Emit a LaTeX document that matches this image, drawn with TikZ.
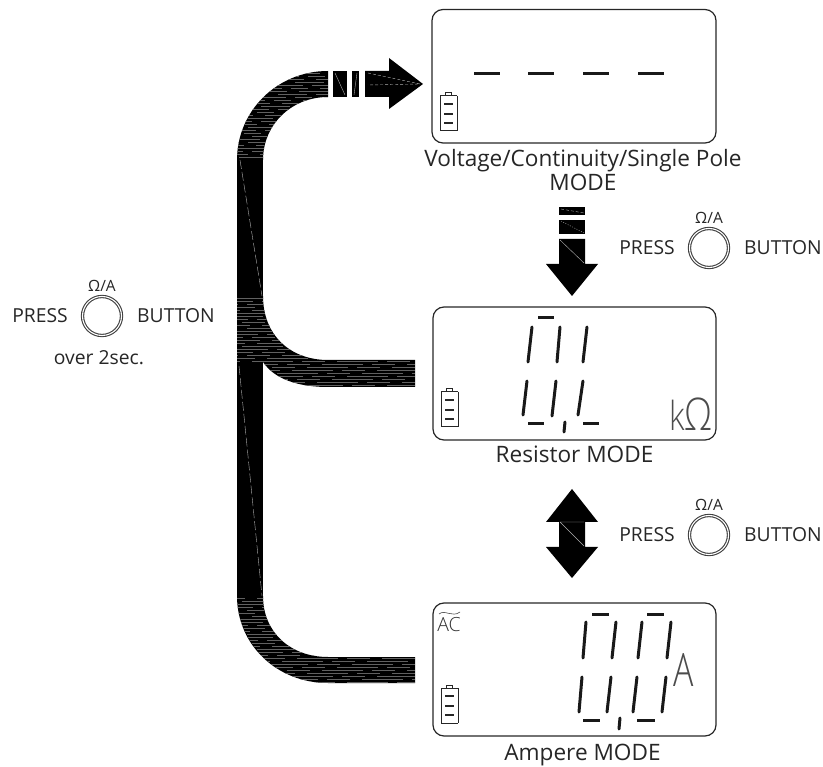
\documentclass[tikz,border=0pt]{standalone}
\usepackage{fontspec}
\setmainfont{Open Sans}
\newfontfamily\thinfont{Open Sans Light}
\tikzset{
  lbl/.style={inner sep=0pt,text=black!85,font=\fontsize{19.3}{22}\selectfont},
  captext/.style={inner sep=0pt,text=black!85,font=\fontsize{22.6}{25}\selectfont},
  small/.style={inner sep=0pt,text=black!85,font=\fontsize{15.5}{17}\selectfont},
  lcd/.style={draw=black!85,line width=1.2pt,rounded corners=11pt},
  seg/.style={line width=3pt,draw=black!90,line cap=round},
  dashseg/.style={line width=3pt,draw=black!90},
  band/.style={fill=black,draw=none},
  solid/.style={fill=black,draw=none},
  crack/.style={draw=white!70!black,line width=.4pt},
  stripe/.style={draw=black!62,line width=.6pt},
  ring/.style={circle,draw=black!75,line width=1.1pt,double=white,double distance=1.1pt,minimum size=39pt,inner sep=0pt},
  thinlbl/.style={inner sep=0pt,text=black!70,font=\thinfont\fontsize{40}{44}\selectfont,xscale=.8,transform shape},
  batt/.pic={
    \draw[black!85,line width=1pt] (0,0)--(0,35) (17,0)--(17,35) (0,0)--(17,0) (0,35)--(17,35);
    \draw[black!85,line width=1pt] (5.5,0)--(5.5,-3)--(11.5,-3)--(11.5,0);
    \draw[black!85,line width=1.2pt] (4,8)--(13,8) (4,18)--(13,18) (4,27)--(13,27);
  }
}
\newcommand{\pressbtn}[3]{%
  \node[ring] (#3c) at (#1,#2) {};
  \node[small,anchor=base] (#3o) at (#1,#2-24) {Ω/A};
  \node[lbl,anchor=east] (#3p) at (#1-34,#2) {PRESS};
  \node[lbl,anchor=west] (#3b) at (#1+35,#2) {BUTTON};
}
\begin{document}
\begin{tikzpicture}[x=1pt,y=-1pt]
\useasboundingbox (0,0) rectangle (823,767);
% thick band
\path[band] (237,160) .. controls (237,111) and (277,71) .. (328,71) -- (328,97) .. controls (291,97) and (263,125) .. (263,160) -- cycle;
\path[band] (237,155) rectangle (263,300);
\path[band] (237,296) -- (263,296) .. controls (263,335) and (290,360) .. (328,360) -- (415,360) -- (415,387) -- (328,387) .. controls (300,387) and (275,380) .. (263,362) -- (237,362) -- cycle;
\path[band] (237,355) rectangle (263,600);
\path[band] (237,596) -- (263,596) .. controls (263,632) and (290,657) .. (328,657) -- (415,657) -- (415,683) -- (328,683) .. controls (277,683) and (237,645) .. (237,596) -- cycle;
% stripes
\begin{scope}
\clip (237,160) .. controls (237,111) and (277,71) .. (328,71) -- (328,97) .. controls (291,97) and (263,125) .. (263,160) -- cycle;
\foreach \yy in {73,76,...,160} \draw[stripe,dash pattern=on 17pt off 12pt on 29pt off 9pt,dash phase=\yy*7pt] (237,\yy) -- (328,\yy);
\end{scope}
\begin{scope}
\clip (237,296) -- (263,296) .. controls (263,335) and (290,360) .. (328,360) -- (415,360) -- (415,387) -- (328,387) .. controls (300,387) and (275,380) .. (263,362) -- (237,362) -- cycle;
\foreach \yy in {298,301,...,387} \draw[stripe,dash pattern=on 23pt off 12pt on 41pt off 9pt,dash phase=\yy*5pt] (237,\yy) -- (415,\yy);
\end{scope}
\begin{scope}
\clip (237,596) -- (263,596) .. controls (263,632) and (290,657) .. (328,657) -- (415,657) -- (415,683) -- (328,683) .. controls (277,683) and (237,645) .. (237,596) -- cycle;
\foreach \yy in {598,601,...,683} \draw[stripe,dash pattern=on 23pt off 12pt on 41pt off 9pt,dash phase=\yy*5pt] (237,\yy) -- (415,\yy);
\end{scope}
\draw[crack,dashed,dash pattern=on 9pt off 3pt] (240,160) -- (262,296);
\draw[crack,dashed,dash pattern=on 9pt off 3pt] (239,366) -- (262,596);
% right arrow
\path[solid] (333,71) rectangle (347,97);
\path[solid] (352,71) rectangle (359,97);
\path[solid] (365,71) -- (389,71) -- (389,58) -- (423,84) -- (389,109) -- (389,97) -- (365,97) -- cycle;
\draw[crack] (335,73) -- (345,95) (357,73) -- (354,95);
\draw[crack,dashed,dash pattern=on 3pt off 2pt] (368,73) -- (420,84) -- (368,85);
% down arrow
\path[solid] (559,207) rectangle (585,215);
\path[solid] (559,220) rectangle (585,234);
\path[solid] (559,239) -- (585,239) -- (585,264) -- (598,264) -- (572,296) -- (546,264) -- (559,264) -- cycle;
\draw[crack,dashed,dash pattern=on 3pt off 2pt] (561,209) -- (584,213);
\draw[crack,dash pattern=on 1pt off 1.5pt] (561,221) -- (584,233);
\draw[crack] (560,240) -- (584,263);
% double arrow
\path[solid] (572,489) -- (598,522) -- (585,522) -- (585,547) -- (598,547) -- (572,578) -- (546,547) -- (559,547) -- (559,522) -- (546,522) -- cycle;
\draw[crack] (560,522) -- (584,546) (560,522) -- (584,522);
% displays
\draw[lcd] (432,9.5) rectangle (716,143);
\draw[lcd] (433,307) rectangle (716,440);
\draw[lcd] (433,603) rectangle (716,736);
\pic at (440,96) {batt};
\pic at (441,392) {batt};
\pic at (441,688) {batt};
\foreach \xa/\xb in {474/499.5,528/554,583/609,638/664} \draw[dashseg] (\xa,74) -- (\xb,74);
% resistor digits
\draw[dashseg] (538,318) -- (554,318) (528,424) -- (544,424) (583,424) -- (599,424);
\draw[seg] (532,327) -- (528,362) (560,327) -- (557,362) (587,327) -- (583,362);
\draw[seg] (527,381) -- (523,415) (556,381) -- (552,416) (583,381) -- (578,415);
\draw[seg] (565,422) -- (564,432);
\node[thinlbl,anchor=base east] (ko) at (713,431) {k{\fontsize{45}{48}\selectfont Ω}};
% ampere digits
\draw[dashseg] (592,614) -- (609,614) (647,614) -- (664,614) (583,720) -- (600,720) (637,720) -- (655,720);
\draw[seg] (586,622) -- (583,658) (616,622) -- (612,658) (642,622) -- (638,658) (671,622) -- (667,658);
\draw[seg] (582,677) -- (579,712) (611,677) -- (607,712) (637,677) -- (633,712) (666,677) -- (662,712);
\draw[seg] (620,718) -- (619,729);
\node[thinlbl,anchor=base,xscale=.92] (amp) at (684,686) {\fontsize{46}{48}\selectfont A};
\node[inner sep=0pt,anchor=base,text=black!80,font=\thinfont\fontsize{19.5}{21}\selectfont] (ac) at (449,631) {AC};
\draw[black!70,line width=.6pt] (439,614) .. controls (445,609) and (452,618) .. (460,612);
% captions
\node[captext,anchor=base] (v1) at (583,167) {Voltage/Continuity/Single Pole};
\node[captext,anchor=base] (v2) at (583,191) {MODE};
\node[captext,anchor=base] (r1) at (574.5,463) {Resistor MODE};
\node[captext,anchor=base] (a1) at (582.5,760) {Ampere MODE};
\pressbtn{709}{248}{ba}
\pressbtn{709}{535}{bb}
\pressbtn{102}{316}{bc}
\node[lbl,anchor=base] (ov) at (99,365) {over 2sec.};
\end{tikzpicture}
\end{document}
